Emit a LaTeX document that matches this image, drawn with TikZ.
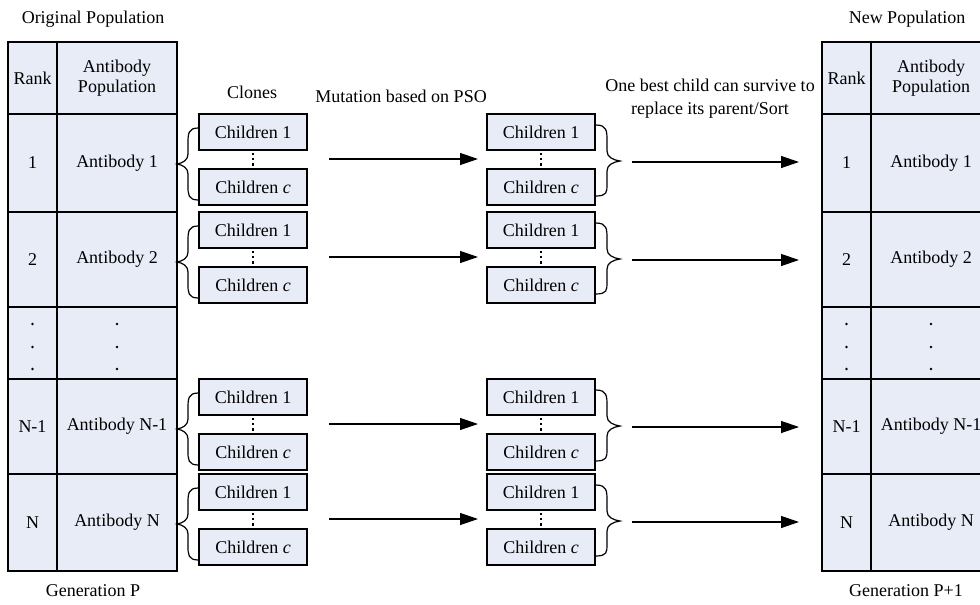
\documentclass[tikz,border=0pt]{standalone}
\usepackage{fontspec}
\setmainfont{Liberation Serif}
\usetikzlibrary{arrows.meta}
\definecolor{cellfill}{RGB}{231,236,247}
\begin{document}
\begin{tikzpicture}[x=0.5pt,y=-0.5pt,
  font=\fontsize{9}{10}\selectfont,
  cell/.style={draw, line width=0.8pt, fill=cellfill, inner sep=0pt, align=center},
  childbox/.style={draw, line width=0.75pt, fill=cellfill, minimum width=54pt, minimum height=18pt, inner sep=0pt},
  conn/.style={line width=0.65pt, -{Triangle[length=9pt,width=6pt]}},
  bracepath/.style={line width=0.6pt},
  vdotted/.style={line width=1.4pt, dash pattern=on 1.2pt off 1.4pt, shorten <=1pt, shorten >=1pt},
  lbl/.style={inner sep=0pt}]
\path[use as bounding box] (0,0) rectangle (980,605);
\clip (0,0) rectangle (980,605);

% tables
\foreach \dx/\s in {0/L,814/R} {
  \node[cell, minimum width=24.5pt, minimum height=36pt] (\s-h1) at (32.5+\dx,78) {Rank};
  \node[cell, minimum width=60pt, minimum height=36pt] (\s-h2) at (117+\dx,78) {Antibody\\Population};
  \foreach \T/\H/\rk/\ab/\ri in {114/98/1/Antibody 1/1, 212/95/2/Antibody 2/2, 379/95/N-1/Antibody N-1/3, 474/97/N/Antibody N/4} {
    \node[cell, minimum width=24.5pt, minimum height=\H*0.5pt] (\s-k\ri) at (32.5+\dx,\T+\H/2) {\rk};
    \node[cell, minimum width=60pt, minimum height=\H*0.5pt] (\s-a\ri) at (117+\dx,\T+\H/2) {\ab};
  }
  \node[cell, minimum width=24.5pt, minimum height=36pt] (\s-kd) at (32.5+\dx,343) {};
  \node[cell, minimum width=60pt, minimum height=36pt] (\s-ad) at (117+\dx,343) {};
  \foreach \yy in {324,347,369} {
    \fill (32.5+\dx,\yy) circle (1.4);
    \fill (117+\dx,\yy) circle (1.4);
  }
}

% children, braces, arrows
\foreach \T/\ri in {114/1,212/2,379/3,474/4} {
  \node[childbox] (L\ri-a) at (253,\T+18) {Children 1};
  \node[childbox] (L\ri-b) at (253,\T+73) {Children \textit{c}};
  \node[childbox] (R\ri-a) at (541,\T+18) {Children 1};
  \node[childbox] (R\ri-b) at (541,\T+73) {Children \textit{c}};
  \draw[vdotted] (L\ri-a) -- (L\ri-b);
  \draw[vdotted] (R\ri-a) -- (R\ri-b);
  % left brace
  \coordinate (LBt\ri) at (L\ri-a.west |- 0,\T+14);
  \coordinate (LBb\ri) at (L\ri-b.west |- 0,\T+86);
  \coordinate (LBm\ri) at (177,\T+50);
  \draw[bracepath] (LBt\ri) .. controls (188,\T+14) and (188,\T+20) .. (188,\T+30)
     -- (188,\T+40) .. controls (188,\T+46) and (183,\T+49) .. (LBm\ri)
     .. controls (183,\T+51) and (188,\T+54) .. (188,\T+60)
     -- (188,\T+72) .. controls (188,\T+80) and (188,\T+86) .. (LBb\ri);
  % right brace
  \coordinate (RBt\ri) at (R\ri-a.east |- 0,\T+11);
  \coordinate (RBb\ri) at (R\ri-b.east |- 0,\T+82);
  \coordinate (RBm\ri) at (620,\T+47);
  \draw[bracepath] (RBt\ri) .. controls (607,\T+11) and (607,\T+17) .. (607,\T+27)
     -- (607,\T+37) .. controls (607,\T+43) and (613,\T+46) .. (RBm\ri)
     .. controls (613,\T+48) and (607,\T+51) .. (607,\T+57)
     -- (607,\T+71) .. controls (607,\T+78) and (607,\T+82) .. (RBb\ri);
  % arrows
  \coordinate (MA\ri) at (329,\T+45);
  \coordinate (MB\ri) at (478,\T+45);
  \coordinate (SA\ri) at (632,\T+48);
  \coordinate (SB\ri) at (799,\T+48);
  \draw[conn] (MA\ri) -- (MB\ri);
  \draw[conn] (SA\ri) -- (SB\ri);
}

% labels
\node[lbl] (origpop) at (93,19) {Original Population};
\node[lbl] (newpop) at (907,19) {New Population};
\node[lbl] (clones) at (252,92) {Clones};
\node[lbl] (mut) at (401,96) {Mutation based on PSO};
\node[lbl, align=center, font=\fontsize{9}{11.5}\selectfont] (best) at (710,99) {One best child can survive to\\replace its parent/Sort};
\node[lbl] (genp) at (93,591) {Generation P};
\node[lbl] (genp1) at (906,591) {Generation P+1};
\end{tikzpicture}
\end{document}
